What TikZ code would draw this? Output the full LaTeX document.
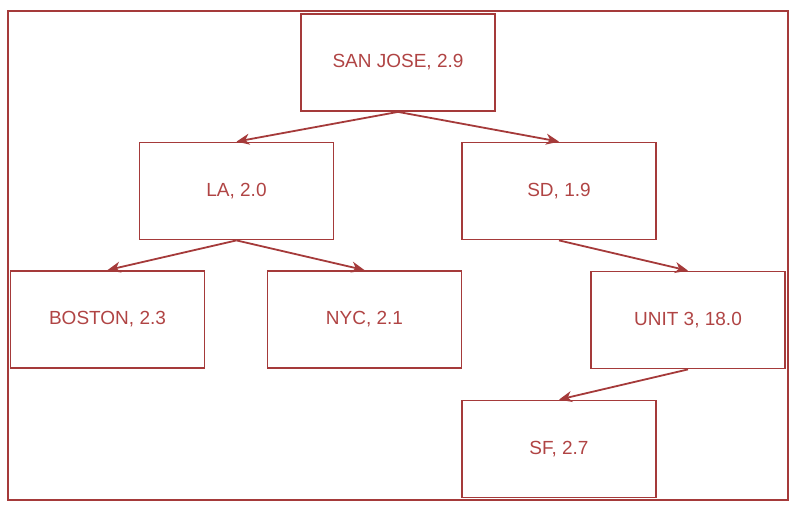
\documentclass[tikz,border=0pt]{standalone}
\usepackage{fontspec}
\setmainfont{Liberation Sans}
\usetikzlibrary{arrows.meta}
\definecolor{linered}{HTML}{A53A3A}
\definecolor{textred}{HTML}{B04444}
\begin{document}
\begin{tikzpicture}[x=1pt, y=-1pt, line width=1.8pt]
    \tikzset{
      city/.style={draw=linered, rectangle, minimum width=194pt, minimum height=97pt, inner sep=0pt, text=textred, font=\fontsize{19}{22}\selectfont},
      link/.style={draw=linered, -{Stealth[length=13pt, width=11pt, inset=4pt]}}
    }
    \useasboundingbox (0, 0) rectangle (806, 514);
    \draw[linered, line width=1.6pt] (8, 11) rectangle (788, 500);

    \node[city] (SJ) at (398, 62.5) {SAN JOSE, 2.9};
    \node[city] (LA) at (236.5, 191) {LA, 2.0};
    \node[city] (SD) at (559, 191) {SD, 1.9};
    \node[city] (BOS) at (107.5, 319.5) {BOSTON, 2.3};
    \node[city] (NYC) at (364.5, 319.5) {NYC, 2.1};
    \node[city] (U3) at (688, 320) {UNIT 3, 18.0};
    \node[city] (SF) at (559, 449) {SF, 2.7};

    % Arrows
    \draw[link] (SJ.south) -- (LA.north);
    \draw[link] (SJ.south) -- (SD.north);
    \draw[link] (LA.south) -- (BOS.north);
    \draw[link] (LA.south) -- (NYC.north);
    \draw[link] (SD.south) -- (U3.north);
    \draw[link] (U3.south) -- (SF.north);

\end{tikzpicture}
\end{document}
